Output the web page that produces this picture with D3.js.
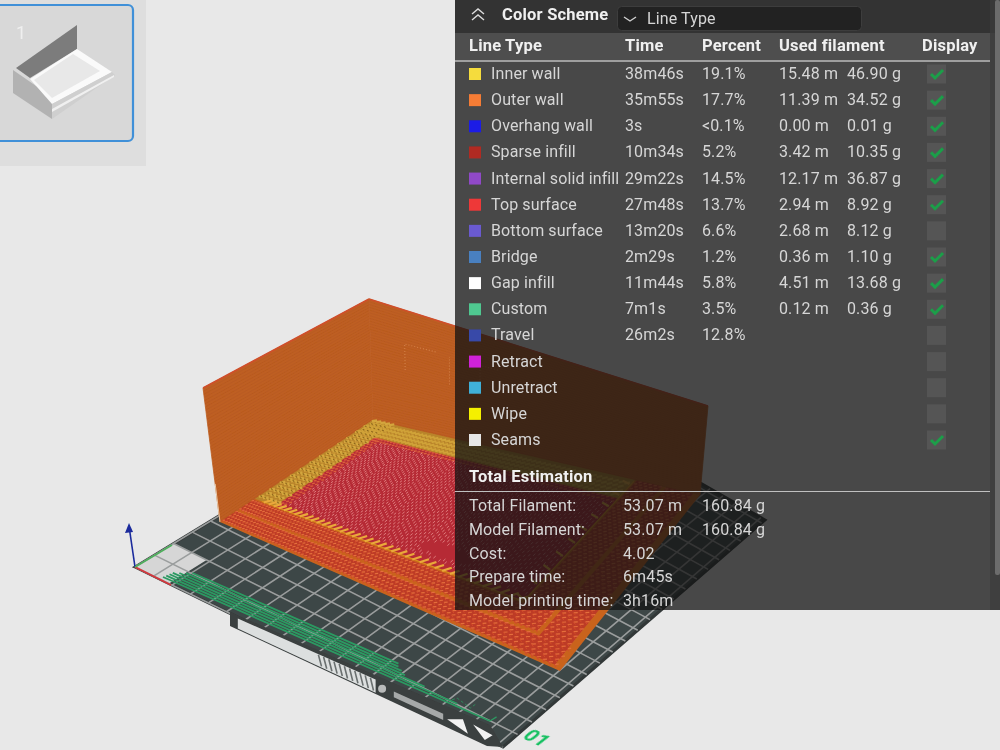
<!DOCTYPE html>
<html>
<head>
<meta charset="utf-8">
<script src="https://cdn.jsdelivr.net/npm/d3@7"></script>
<style>
body { margin: 0; background: #e8e8e8; }
text { font-family: Roboto, sans-serif; font-size: 16px; letter-spacing: 0.12px; fill: #d6d6d6; }
.head { font-weight: 700; font-size: 16.5px; letter-spacing: 0.2px; fill: #f0f0f0; }
</style>
</head>
<body>
<script>
// table values
const lineTypes = ["Inner wall", "Outer wall", "Overhang wall", "Sparse infill", "Internal solid infill", "Top surface", "Bottom surface", "Bridge", "Gap infill", "Custom", "Travel", "Retract", "Unretract", "Wipe", "Seams"];
const times = ["38m46s", "35m55s", "3s", "10m34s", "29m22s", "27m48s", "13m20s", "2m29s", "11m44s", "7m1s", "26m2s", "", "", "", ""];
const percents = ["19.1%", "17.7%", "<0.1%", "5.2%", "14.5%", "13.7%", "6.6%", "1.2%", "5.8%", "3.5%", "12.8%", "", "", "", ""];
const metres = ["15.48 m", "11.39 m", "0.00 m", "3.42 m", "12.17 m", "2.94 m", "2.68 m", "0.36 m", "4.51 m", "0.12 m", "", "", "", "", ""];
const grams = ["46.90 g", "34.52 g", "0.01 g", "10.35 g", "36.87 g", "8.92 g", "8.12 g", "1.10 g", "13.68 g", "0.36 g", "", "", "", "", ""];
const swatches = ["#f5dc3c", "#f57c35", "#1a1ae6", "#b02a24", "#9048c8", "#ee3838", "#6a5ad0", "#4a80c0", "#ffffff", "#50c890", "#3848a8", "#d020d8", "#40b0d8", "#f5f000", "#e6e6e6"];
const displayed = [1, 1, 1, 1, 1, 1, 0, 1, 1, 1, 0, 0, 0, 0, 1];
const headers = ["Line Type", "Time", "Percent", "Used filament", "Display"];
const headerX = [469, 625, 702, 779, 922];

const totalLabels = ["Total Filament:", "Model Filament:", "Cost:", "Prepare time:", "Model printing time:"];
const totalValues = ["53.07 m", "53.07 m", "4.02", "6m45s", "3h16m"];
const totalWeights = ["160.84 g", "160.84 g", "", "", ""];

// prime line rows, as fractions of its strip
const primeRows = [0, 0.14, 0.28, 0.42, 0.56, 0.7, 0.85];
const primeStart = [0, 0.01, 0.02, 0.03, 0.05, 0.07, 0.09];
const primeEnd = [1, 0.9, 0.8, 0.74, 0.73, 0.72, 0.72];
const bedTicks = d3.range(0, 257, 12);

const width = 1000, height = 750;

const svg = d3.select("body").append("svg")
    .attr("width", width)
    .attr("height", height)
    .style("display", "block");

const defs = svg.append("defs");
defs.append("filter").attr("id", "soft").append("feGaussianBlur").attr("stdDeviation", 0.55);
defs.append("filter").attr("id", "softText").append("feGaussianBlur").attr("stdDeviation", 0.25);

// maps the unit square on a four cornered plane of the scene
function quadProjection([p0, p1, p2, p3]) {
  const dx1 = p1[0] - p2[0], dx2 = p3[0] - p2[0], sx = p0[0] - p1[0] + p2[0] - p3[0];
  const dy1 = p1[1] - p2[1], dy2 = p3[1] - p2[1], sy = p0[1] - p1[1] + p2[1] - p3[1];
  const den = dx1 * dy2 - dx2 * dy1;
  const g = (sx * dy2 - dx2 * sy) / den;
  const h = (dx1 * sy - sx * dy1) / den;
  const a = p1[0] - p0[0] + g * p1[0], b = p3[0] - p0[0] + h * p3[0];
  const d = p1[1] - p0[1] + g * p1[1], e = p3[1] - p0[1] + h * p3[1];
  return (u, v) => {
    const w = g * u + h * v + 1;
    return [(a * u + b * v + p0[0]) / w, (d * u + e * v + p0[1]) / w];
  };
}

// same, but straight interpolation for the flat strips on the plate
function stripProjection(topLeft, topRight, bottomRight, bottomLeft) {
  const top = d3.interpolate(topLeft, topRight), bottom = d3.interpolate(bottomLeft, bottomRight);
  return (p, q) => d3.interpolate(top(p), bottom(p))(q);
}

const bedPlane = quadProjection([[135, 567], [503, 747], [765, 520], [480, 357]]);
const floorPlane = quadProjection([[220, 522], [560, 671], [700, 495], [373, 420]]);
const leftWall = quadProjection([[220, 522], [373, 420], [369, 299], [203, 388]]);
const backWall = quadProjection([[373, 420], [700, 495], [708, 406], [369, 299]]);
const tabPlane = stripProjection([230, 612], [490, 725], [490, 748], [230, 626]);
const primePlane = stripProjection([163, 577], [490, 721], [490, 701], [163, 557]);

const mm = d3.scaleLinear().domain([0, 256]).range([0, 1]);
const bed = (u, v) => bedPlane(mm(u), mm(v));
const line = d3.line();

function quad(proj, u0, u1, v0, v1) {
  return line([proj(u0, v0), proj(u1, v0), proj(u1, v1), proj(u0, v1)]) + "Z";
}

// short strokes in a rectangle of a plane, one path for all
function stitches(g, proj, box, step, dir, color, w, opacity) {
  const p = d3.path();
  const [u0, u1, v0, v1] = box;
  let row = 0;
  for (let v = v0; v < v1; v += step[1], row++) {
    for (let u = u0 + (row % 2) * step[0] / 2; u < u1; u += step[0]) {
      const a = proj(u, v), b = proj(u + dir[0], v + dir[1]);
      p.moveTo(a[0], a[1]);
      p.lineTo(b[0], b[1]);
    }
  }
  g.append("path").attr("d", p.toString())
      .attr("fill", "none").attr("stroke", color)
      .attr("stroke-width", w).attr("stroke-opacity", opacity || 1);
}

const scene = svg.append("g").attr("filter", "url(#soft)");

// bed
scene.append("path")
    .attr("d", quad(bed, 0, 256, 0, 256))
    .attr("fill", "#3e4646").attr("stroke", "#333838").attr("stroke-width", 3);

scene.append("path")
    .attr("d", quad(bed, 0, 22, 0, 24))
    .attr("fill", "#d6d6d6");

const gridLines = scene.append("g").attr("stroke", "#9a9d9d").attr("stroke-width", 1.6);
gridLines.selectAll(".gu").data(bedTicks).join("path").attr("class", "gu")
    .attr("d", d => line([bed(d, 0), bed(d, 256)]));
gridLines.selectAll(".gv").data(bedTicks).join("path").attr("class", "gv")
    .attr("d", d => line([bed(0, d), bed(256, d)]));

// plate tab with sticker
scene.append("path")
    .attr("d", line([tabPlane(0, 0), tabPlane(1, 0), [503, 747], [487, 746], tabPlane(0, 1)]) + "Z")
    .attr("fill", "#3a3f3f");
scene.append("path").attr("d", quad(tabPlane, 0.03, 0.56, 0.22, 0.92)).attr("fill", "#dcdfdf");
stitches(scene, tabPlane, [0.34, 0.56, 0.25, 0.3], [0.02, 1], [0.012, 0.6], "#6a6f6f", 1.6);
scene.append("path").attr("d", quad(tabPlane, 0.63, 0.82, 0.42, 0.72)).attr("fill", "#a6a9a9");
scene.append("circle").datum(tabPlane(0.585, 0.55)).attr("cx", d => d[0]).attr("cy", d => d[1]).attr("r", 4).attr("fill", "#b8baba");
scene.append("path").attr("d", line([tabPlane(0.835, 0.6), tabPlane(0.896, 0.27), tabPlane(0.915, 0.82)]) + "Z").attr("fill", "#f2f2f2");
scene.append("path").attr("d", line([tabPlane(0.935, 0.31), tabPlane(1.01, 0.39), tabPlane(0.98, 0.76)]) + "Z").attr("fill", "#f2f2f2");

// prime line
const primeLines = scene.append("g").attr("stroke", "#2c9a62").attr("fill", "none");
primeLines.selectAll("path").data(primeRows).join("path")
    .attr("d", (d, i) => line([primePlane(primeStart[i], d), primePlane(primeEnd[i], d)]))
    .attr("stroke-width", 1.8);
primeLines.append("path").attr("d", line([primePlane(1, 0), primePlane(1.02, 0.35)])).attr("stroke-width", 1.2);
primeLines.append("path")
    .attr("d", line([primePlane(0.84, 0.1), primePlane(0.88, 0.18), primePlane(0.9, 0.42), primePlane(0.94, 0.22), primePlane(0.96, 0.6)]))
    .attr("stroke-width", 0.8).attr("stroke-dasharray", "3 2");

// walls
[leftWall, backWall].forEach(wall => {
  scene.append("path").attr("d", quad(wall, 0, 1, 0, 1))
      .attr("fill", "#be5e22").attr("stroke", "#be5e22").attr("stroke-width", 0.8);
  const layers = d3.range(0.01, 1, 0.022);
  scene.append("g").selectAll("path").data(layers).join("path")
      .attr("d", d => line([wall(0, d), wall(1, d)]))
      .attr("stroke", "#a9501a").attr("stroke-opacity", 0.3).attr("stroke-width", 0.8);
  scene.append("path").attr("d", line([wall(0, 1), wall(1, 1)]))
      .attr("stroke", "#cf4f2c").attr("stroke-width", 1.6);
});
scene.append("path").attr("d", line([leftWall(0, 0), leftWall(0, 0.3)]))
    .attr("stroke", "#e8c8a8").attr("stroke-width", 1);

// embossed letters on the back wall
const letters = [[[0.08, 0.5], [0.08, 0.72], [0.16, 0.73]], [[0.19, 0.48], [0.19, 0.72]], [[0.23, 0.72], [0.32, 0.73]], [[0.27, 0.46], [0.27, 0.72]]];
scene.append("g").selectAll("path").data(letters).join("path")
    .attr("d", d => line(d.map(p => backWall(p[0], p[1]))))
    .attr("fill", "none").attr("stroke", "#d88a52").attr("stroke-opacity", 0.8).attr("stroke-width", 1.1).attr("stroke-dasharray", "1 2");

// floor: rings from the edge inwards
scene.append("path").attr("d", quad(floorPlane, 0, 1, 0, 1)).attr("fill", "#c9641f");

const rings = [
  [0, 0.985, 0.014, 0.09],
  [0.925, 0.985, 0.014, 1],
  [0, 0.915, 0.108, 0.19],
  [0.855, 0.915, 0.108, 1]
];
rings.forEach(r => {
  scene.append("path").attr("d", quad(floorPlane, r[0], r[1], r[2], r[3])).attr("fill", "#bd3b26");
  stitches(scene, floorPlane, r, [0.012, 0.018], [0.006, 0.007], "#e46e3c", 1.2);
  stitches(scene, floorPlane, r, [0.012, 0.018], [0.006, -0.007], "#d24a2a", 1);
});

// core with chevrons
const core = [0.085, 0.85, 0.2, 0.86];
scene.append("path").attr("d", quad(floorPlane, core[0], core[1], core[2], core[3])).attr("fill", "#b62c36");
stitches(scene, floorPlane, [0.085, 0.11, 0.21, 0.86], [0.012, 0.02], [0.006, 0.008], "#dc5f3c", 1.3);
stitches(scene, floorPlane, [0.085, 0.85, 0.83, 0.86], [0.012, 0.02], [0.006, 0.008], "#dc5f3c", 1.3);

const chevron = d3.path();
const tri = s => Math.abs(((s / 0.09) % 1) - 0.5) * 2;
d3.range(0.16, 0.86, 0.028).forEach(t0 => {
  d3.range(0.12, 0.845, 0.0085).forEach(s => {
    const t = t0 + 0.055 * tri(s);
    if (t < 0.225 || t > 0.82) return;
    // flat patch in the middle of the top surface
    if (((s - 0.615) / 0.07) ** 2 + ((t - 0.282) / 0.035) ** 2 < 1) return;
    const a = floorPlane(s, t), b = floorPlane(s, t + 0.014);
    chevron.moveTo(a[0], a[1]);
    chevron.lineTo(b[0], b[1]);
  });
});
scene.append("path").attr("d", chevron.toString())
    .attr("fill", "none").attr("stroke", "#f09a98").attr("stroke-width", 1).attr("stroke-opacity", 0.7);

// gold bands against the walls and toothed seam
scene.append("path").attr("d", quad(floorPlane, 0, 0.085, 0.2, 1)).attr("fill", "#b9842a");
scene.append("path").attr("d", quad(floorPlane, 0, 0.85, 0.86, 1)).attr("fill", "#b9842a");
stitches(scene, floorPlane, [0.002, 0.075, 0.22, 0.99], [0.018, 0.032], [0.013, 0.016], "#d4a63e", 2.4);
stitches(scene, floorPlane, [0.002, 0.84, 0.87, 0.99], [0.014, 0.03], [0.009, 0.018], "#d0a238", 2);
stitches(scene, floorPlane, [0.002, 0.075, 0.23, 0.99], [0.018, 0.032], [0.01, -0.005], "#8e661c", 1.1);

scene.append("path").attr("d", line([floorPlane(0.03, 0.2), floorPlane(0.85, 0.2)]))
    .attr("stroke", "#d9901f").attr("stroke-width", 1.2);
stitches(scene, floorPlane, [0.04, 0.84, 0.197, 0.199], [0.021, 1], [0.012, 0.03], "#eaa83a", 2.2);
scene.append("path").attr("d", line([floorPlane(0.85, 0.2), floorPlane(0.85, 0.99)]))
    .attr("stroke", "#d9901f").attr("stroke-width", 1.2);
stitches(scene, floorPlane, [0.846, 0.848, 0.21, 0.98], [1, 0.042], [-0.02, 0.012], "#eaa83a", 2.2);

// axes at the origin
const origin = bed(0, 0);
const axisEnds = [[129, 526, "#1a2a9c"], [171, 585, "#d8343a"], [172, 545, "#4eb05c"]];
scene.append("g").selectAll("path").data(axisEnds).join("path")
    .attr("d", d => line([origin, [d[0], d[1]]]))
    .attr("stroke", d => d[2]).attr("stroke-width", 1.6);
scene.append("path").attr("d", line([[125, 533], [133, 532], [129, 523]]) + "Z").attr("fill", "#1a2a9c");

svg.append("text").attr("transform", "translate(522,738) rotate(25) skewX(-18)")
    .attr("filter", "url(#softText)")
    .style("font-size", "20px").style("font-weight", 700).style("font-style", "italic").style("fill", "#12c060")
    .text("01");

// thumbnail strip
const thumb = svg.append("g").attr("filter", "url(#softText)");
thumb.append("rect").attr("width", 146).attr("height", 166).attr("fill", "#dedede");
thumb.append("rect").attr("x", -6).attr("y", 5).attr("width", 139).attr("height", 136).attr("rx", 5)
    .attr("fill", "#d8d8d8").attr("stroke", "#3f90d8").attr("stroke-width", 2.2);
thumb.append("text").attr("x", 16).attr("y", 39).style("font-size", "18px").style("fill", "#efefef").text("1");
const thumbFaces = [
  [[[16, 68], [77, 25], [77, 49], [30, 78]], "#7c7c7c"],
  [[[13, 70], [52, 97], [52, 119], [13, 93]], "#b2b2b2"],
  [[[30, 79], [77, 49], [112, 72], [52, 104]], "#fafafa"],
  [[[34, 80], [73, 54], [100, 71], [52, 98]], "#e8e8e8"],
  [[[52, 104], [112, 72], [115, 75], [52, 119]], "#cfcfcf"],
  [[[52, 109], [114, 75], [114, 77], [52, 112]], "#f0f0f0"]
];
thumb.selectAll("path").data(thumbFaces).join("path")
    .attr("d", d => line(d[0]) + "Z").attr("fill", d => d[1]);

// panel
const panel = svg.append("g");
panel.append("rect").attr("x", 455).attr("width", 545).attr("height", 610)
    .attr("fill", "rgb(19,19,19)").attr("fill-opacity", 0.75);
panel.append("rect").attr("x", 455).attr("width", 545).attr("height", 33).attr("fill", "#333333");
panel.append("rect").attr("x", 455).attr("y", 33).attr("width", 535).attr("height", 27).attr("fill", "#4e4e4e");
panel.append("rect").attr("x", 990).attr("width", 10).attr("height", 610).attr("fill", "#3c3c3c").attr("fill-opacity", 0.7);
panel.append("rect").attr("x", 995).attr("width", 5).attr("height", 575).attr("rx", 2).attr("fill", "#6c6c6c");
panel.append("path").attr("d", "M455 61H990").attr("stroke", "#bdbdbd").attr("stroke-width", 1.3);
panel.append("path").attr("d", "M455 491.5H990").attr("stroke", "#c0c0c0").attr("stroke-width", 1.2);

const ui = panel.append("g").attr("filter", "url(#softText)");

ui.append("path").attr("d", "M472 14l6-5 6 5M472 20l6-5 6 5")
    .attr("fill", "none").attr("stroke", "#dcdcdc").attr("stroke-width", 1.4);
ui.append("text").attr("class", "head").attr("x", 502).attr("y", 20).text("Color Scheme");
ui.append("rect").attr("x", 617.5).attr("y", 6.5).attr("width", 244).attr("height", 24).attr("rx", 4)
    .attr("fill", "#222222").attr("stroke", "#3e3e3e");
ui.append("path").attr("d", "M624 17l6 4 6-4").attr("fill", "none").attr("stroke", "#d0d0d0").attr("stroke-width", 1.4);
ui.append("text").attr("x", 647).attr("y", 24).text("Line Type");

ui.selectAll(".hd").data(headers).join("text").attr("class", "head hd")
    .attr("x", (d, i) => headerX[i]).attr("y", 51).text(d => d);

const rowY = d3.scaleLinear().domain([0, 14]).range([74, 440]);

const rows = ui.selectAll(".row").data(lineTypes).join("g").attr("class", "row")
    .attr("transform", (d, i) => `translate(0,${rowY(i)})`);

rows.append("rect").attr("x", 469).attr("y", -6).attr("width", 12).attr("height", 12)
    .attr("fill", (d, i) => swatches[i]);
rows.append("text").attr("x", 491).attr("y", 5).text(d => d);
rows.append("text").attr("x", 625).attr("y", 5).text((d, i) => times[i]);
rows.append("text").attr("x", 702).attr("y", 5).text((d, i) => percents[i]);
rows.append("text").attr("x", 779).attr("y", 5).text((d, i) => metres[i]);
rows.append("text").attr("x", 847).attr("y", 5).text((d, i) => grams[i]);
rows.append("rect").attr("x", 927).attr("y", -9.5).attr("width", 19).attr("height", 19).attr("fill", "#555555");
rows.filter((d, i) => displayed[i]).append("path")
    .attr("d", "M931 0l4 4 8-8").attr("fill", "none").attr("stroke", "#1a9e48").attr("stroke-width", 3);

ui.append("text").attr("class", "head").attr("x", 469).attr("y", 482).text("Total Estimation");

const totalY = d3.scaleLinear().domain([0, 4]).range([511, 606]);
const totals = ui.selectAll(".total").data(totalLabels).join("g").attr("class", "total")
    .attr("transform", (d, i) => `translate(0,${totalY(i)})`);
totals.append("text").attr("x", 469).text(d => d);
totals.append("text").attr("x", 623).text((d, i) => totalValues[i]);
totals.append("text").attr("x", 702).text((d, i) => totalWeights[i]);
</script>
</body>
</html>
